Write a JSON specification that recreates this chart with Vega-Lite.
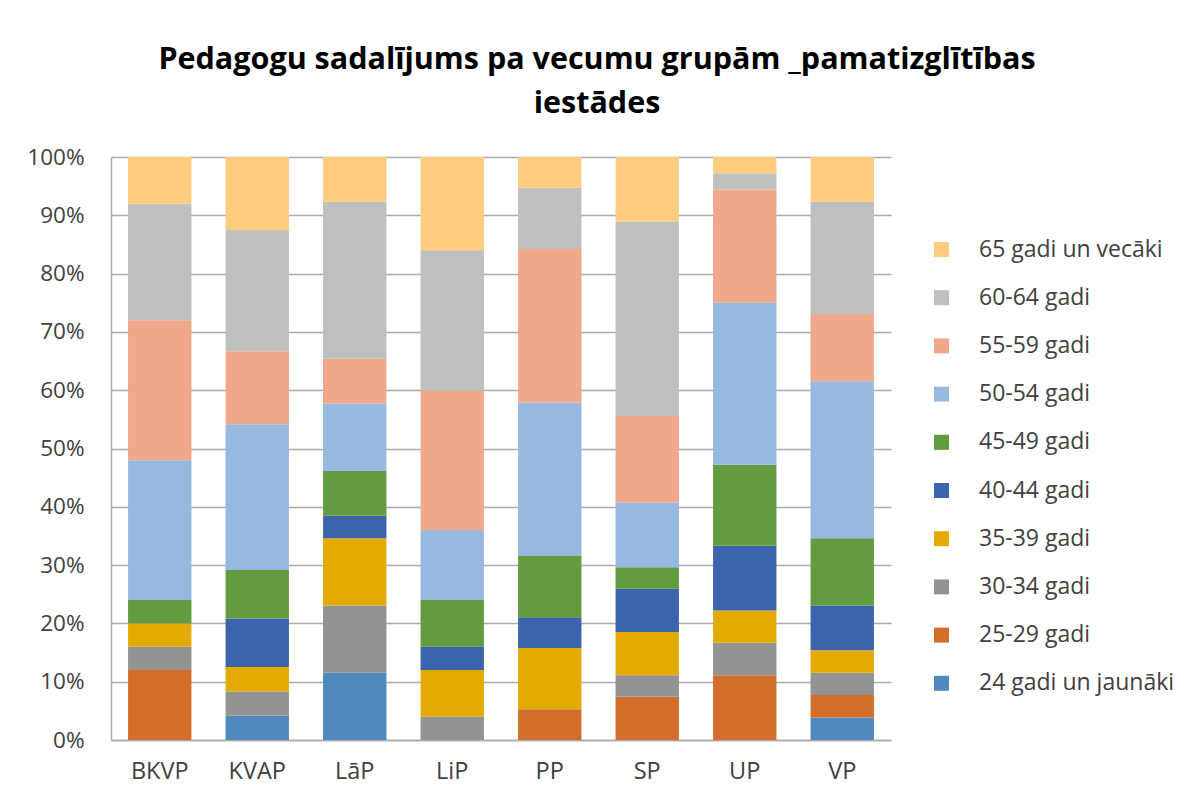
{
  "$schema": "https://vega.github.io/schema/vega-lite/v6.json",
  "width": 780,
  "height": 583,
  "autosize": {"type": "none"},
  "padding": {"left": 111, "top": 157, "right": 303, "bottom": 58},
  "background": "white",
  "title": {
    "text": ["Pedagogu sadalījums pa vecumu grupām _pamatizglītības", "iestādes"],
    "font": "Open Sans",
    "fontSize": 30.5,
    "fontWeight": "bold",
    "color": "#000000",
    "anchor": "middle",
    "frame": "group",
    "dx": 96,
    "offset": 3,
    "baseline": "alphabetic",
    "lineHeight": 44
  },
  "data": {
    "values": [
      {"iestade": "BKVP", "grupa": "25-29 gadi", "dala": 0.12},
      {"iestade": "BKVP", "grupa": "30-34 gadi", "dala": 0.04},
      {"iestade": "BKVP", "grupa": "35-39 gadi", "dala": 0.04},
      {"iestade": "BKVP", "grupa": "45-49 gadi", "dala": 0.04},
      {"iestade": "BKVP", "grupa": "50-54 gadi", "dala": 0.24},
      {"iestade": "BKVP", "grupa": "55-59 gadi", "dala": 0.24},
      {"iestade": "BKVP", "grupa": "60-64 gadi", "dala": 0.20},
      {"iestade": "BKVP", "grupa": "65 gadi un vecāki", "dala": 0.08},

      {"iestade": "KVAP", "grupa": "24 gadi un jaunāki", "dala": 0.0417},
      {"iestade": "KVAP", "grupa": "30-34 gadi", "dala": 0.0417},
      {"iestade": "KVAP", "grupa": "35-39 gadi", "dala": 0.0417},
      {"iestade": "KVAP", "grupa": "40-44 gadi", "dala": 0.0833},
      {"iestade": "KVAP", "grupa": "45-49 gadi", "dala": 0.0833},
      {"iestade": "KVAP", "grupa": "50-54 gadi", "dala": 0.25},
      {"iestade": "KVAP", "grupa": "55-59 gadi", "dala": 0.125},
      {"iestade": "KVAP", "grupa": "60-64 gadi", "dala": 0.2083},
      {"iestade": "KVAP", "grupa": "65 gadi un vecāki", "dala": 0.125},

      {"iestade": "LāP", "grupa": "24 gadi un jaunāki", "dala": 0.1154},
      {"iestade": "LāP", "grupa": "30-34 gadi", "dala": 0.1154},
      {"iestade": "LāP", "grupa": "35-39 gadi", "dala": 0.1154},
      {"iestade": "LāP", "grupa": "40-44 gadi", "dala": 0.0385},
      {"iestade": "LāP", "grupa": "45-49 gadi", "dala": 0.0769},
      {"iestade": "LāP", "grupa": "50-54 gadi", "dala": 0.1154},
      {"iestade": "LāP", "grupa": "55-59 gadi", "dala": 0.0769},
      {"iestade": "LāP", "grupa": "60-64 gadi", "dala": 0.2692},
      {"iestade": "LāP", "grupa": "65 gadi un vecāki", "dala": 0.0769},

      {"iestade": "LiP", "grupa": "30-34 gadi", "dala": 0.04},
      {"iestade": "LiP", "grupa": "35-39 gadi", "dala": 0.08},
      {"iestade": "LiP", "grupa": "40-44 gadi", "dala": 0.04},
      {"iestade": "LiP", "grupa": "45-49 gadi", "dala": 0.08},
      {"iestade": "LiP", "grupa": "50-54 gadi", "dala": 0.12},
      {"iestade": "LiP", "grupa": "55-59 gadi", "dala": 0.24},
      {"iestade": "LiP", "grupa": "60-64 gadi", "dala": 0.24},
      {"iestade": "LiP", "grupa": "65 gadi un vecāki", "dala": 0.16},

      {"iestade": "PP", "grupa": "25-29 gadi", "dala": 0.0526},
      {"iestade": "PP", "grupa": "35-39 gadi", "dala": 0.1053},
      {"iestade": "PP", "grupa": "40-44 gadi", "dala": 0.0526},
      {"iestade": "PP", "grupa": "45-49 gadi", "dala": 0.1053},
      {"iestade": "PP", "grupa": "50-54 gadi", "dala": 0.2632},
      {"iestade": "PP", "grupa": "55-59 gadi", "dala": 0.2632},
      {"iestade": "PP", "grupa": "60-64 gadi", "dala": 0.1053},
      {"iestade": "PP", "grupa": "65 gadi un vecāki", "dala": 0.0526},

      {"iestade": "SP", "grupa": "25-29 gadi", "dala": 0.0741},
      {"iestade": "SP", "grupa": "30-34 gadi", "dala": 0.037},
      {"iestade": "SP", "grupa": "35-39 gadi", "dala": 0.0741},
      {"iestade": "SP", "grupa": "40-44 gadi", "dala": 0.0741},
      {"iestade": "SP", "grupa": "45-49 gadi", "dala": 0.037},
      {"iestade": "SP", "grupa": "50-54 gadi", "dala": 0.1111},
      {"iestade": "SP", "grupa": "55-59 gadi", "dala": 0.1481},
      {"iestade": "SP", "grupa": "60-64 gadi", "dala": 0.3333},
      {"iestade": "SP", "grupa": "65 gadi un vecāki", "dala": 0.1111},

      {"iestade": "UP", "grupa": "25-29 gadi", "dala": 0.1111},
      {"iestade": "UP", "grupa": "30-34 gadi", "dala": 0.0556},
      {"iestade": "UP", "grupa": "35-39 gadi", "dala": 0.0556},
      {"iestade": "UP", "grupa": "40-44 gadi", "dala": 0.1111},
      {"iestade": "UP", "grupa": "45-49 gadi", "dala": 0.1389},
      {"iestade": "UP", "grupa": "50-54 gadi", "dala": 0.2778},
      {"iestade": "UP", "grupa": "55-59 gadi", "dala": 0.1944},
      {"iestade": "UP", "grupa": "60-64 gadi", "dala": 0.0278},
      {"iestade": "UP", "grupa": "65 gadi un vecāki", "dala": 0.0278},

      {"iestade": "VP", "grupa": "24 gadi un jaunāki", "dala": 0.0385},
      {"iestade": "VP", "grupa": "25-29 gadi", "dala": 0.0385},
      {"iestade": "VP", "grupa": "30-34 gadi", "dala": 0.0385},
      {"iestade": "VP", "grupa": "35-39 gadi", "dala": 0.0385},
      {"iestade": "VP", "grupa": "40-44 gadi", "dala": 0.0769},
      {"iestade": "VP", "grupa": "45-49 gadi", "dala": 0.1154},
      {"iestade": "VP", "grupa": "50-54 gadi", "dala": 0.2692},
      {"iestade": "VP", "grupa": "55-59 gadi", "dala": 0.1154},
      {"iestade": "VP", "grupa": "60-64 gadi", "dala": 0.1923},
      {"iestade": "VP", "grupa": "65 gadi un vecāki", "dala": 0.0769}
    ]
  },
  "mark": {"type": "bar"},
  "encoding": {
    "x": {
      "field": "iestade",
      "type": "nominal",
      "sort": ["BKVP", "KVAP", "LāP", "LiP", "PP", "SP", "UP", "VP"],
      "scale": {"paddingInner": 0.35, "paddingOuter": 0.175},
      "axis": {
        "title": null,
        "labelAngle": 0,
        "labelFont": "Open Sans",
        "labelFontSize": 23.5,
        "labelColor": "#404040",
        "labelPadding": 19,
        "ticks": false,
        "domainColor": "#ababab",
        "domainWidth": 1.5,
        "grid": false
      }
    },
    "y": {
      "field": "dala",
      "type": "quantitative",
      "stack": "normalize",
      "scale": {"domain": [0, 1]},
      "axis": {
        "title": null,
        "format": ".0%",
        "values": [0, 0.1, 0.2, 0.3, 0.4, 0.5, 0.6, 0.7, 0.8, 0.9, 1],
        "labelFont": "Open Sans",
        "labelFontSize": 22.5,
        "labelColor": "#404040",
        "labelPadding": 27,
        "ticks": false,
        "domainColor": "#ababab",
        "domainWidth": 1.5,
        "gridColor": "#ababab",
        "gridWidth": 1.5
      }
    },
    "color": {
      "field": "grupa",
      "type": "nominal",
      "scale": {
        "domain": ["65 gadi un vecāki", "60-64 gadi", "55-59 gadi", "50-54 gadi", "45-49 gadi", "40-44 gadi", "35-39 gadi", "30-34 gadi", "25-29 gadi", "24 gadi un jaunāki"],
        "range": ["#FFCC80", "#BFBFBF", "#F0A78A", "#97B9E0", "#629B40", "#3B64AD", "#E3AA00", "#939393", "#D26E2A", "#4F89BD"]
      },
      "legend": {
        "title": null,
        "orient": "none",
        "legendX": 819,
        "legendY": 81,
        "padding": 0,
        "symbolType": "square",
        "symbolSize": 225,
        "symbolStrokeWidth": 0,
        "labelFont": "Open Sans",
        "labelFontSize": 23,
        "labelColor": "#404040",
        "labelOffset": 26,
        "rowPadding": 24.2,
        "labelLimit": 300
      }
    },
    "order": {"field": "grupa", "sort": "ascending"}
  },
  "config": {
    "view": {"stroke": null}
  }
}
